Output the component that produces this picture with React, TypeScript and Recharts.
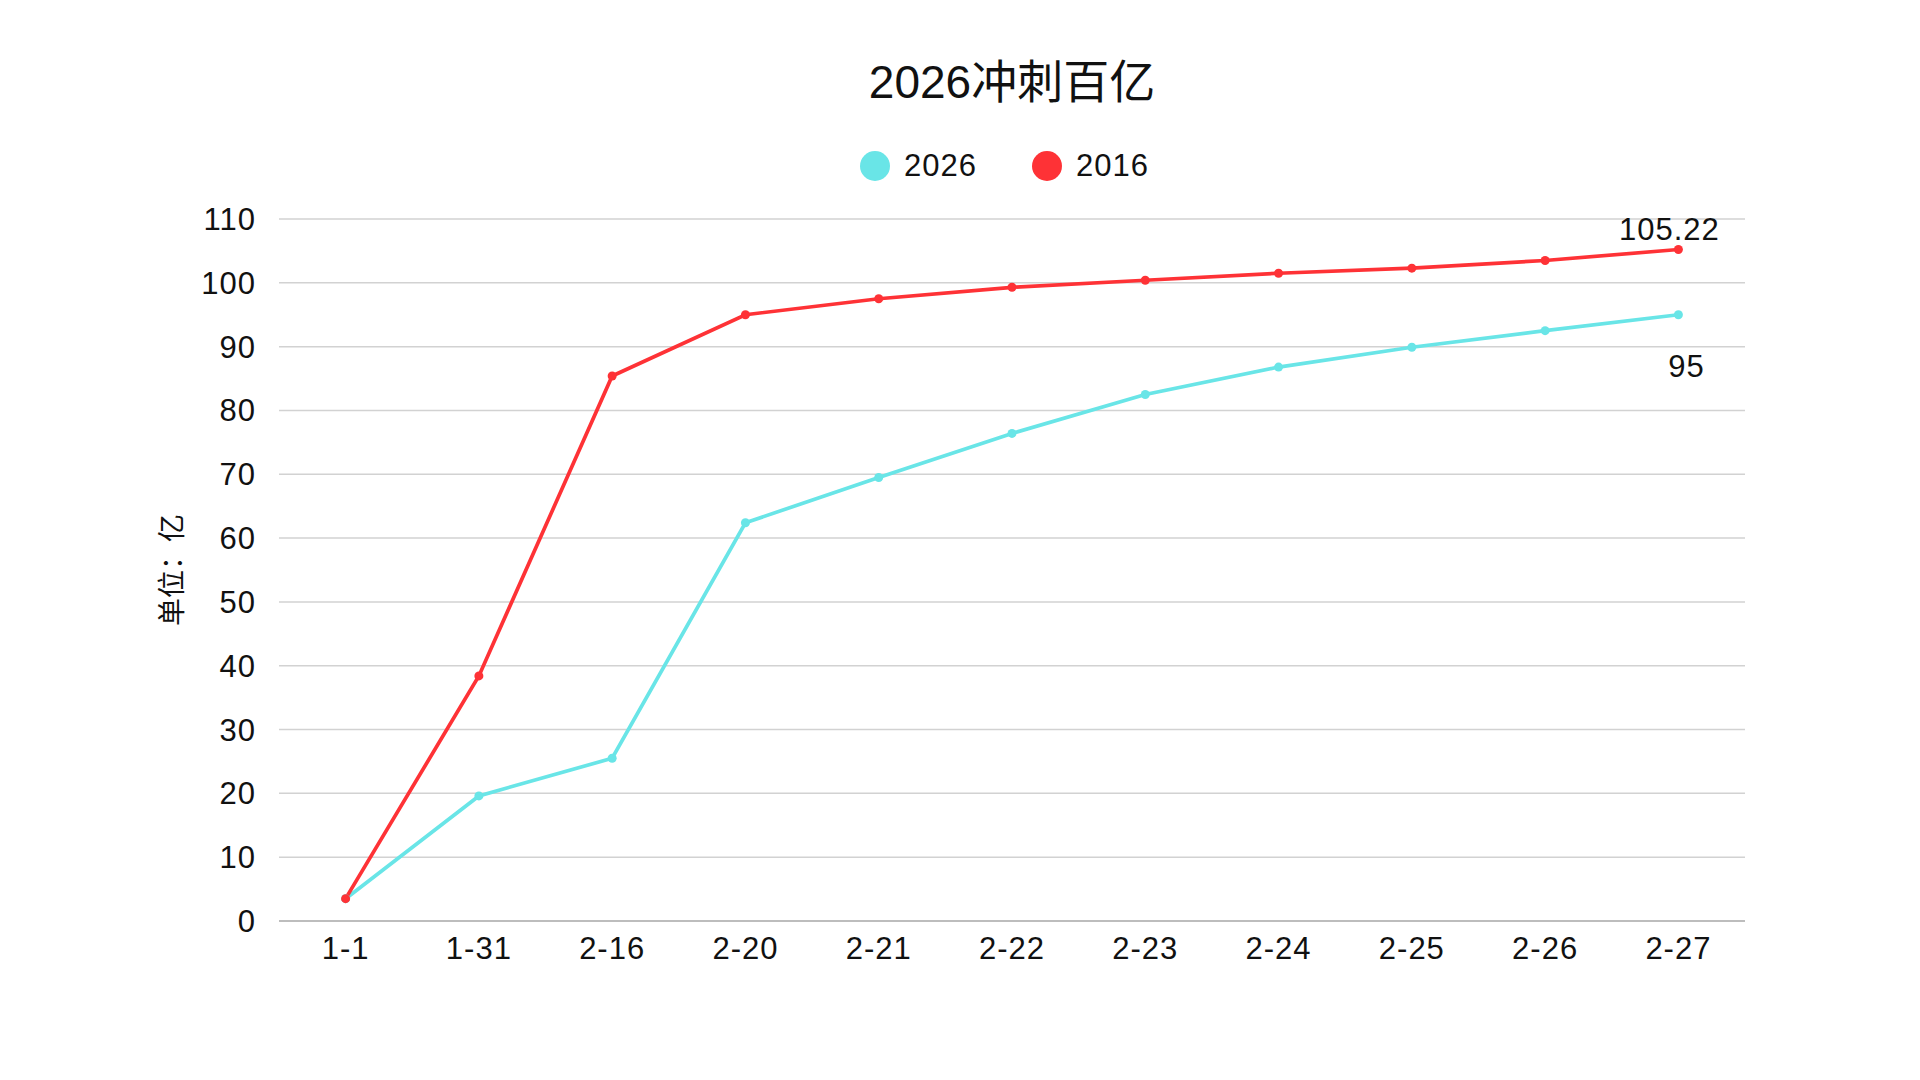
import { LineChart, Line, XAxis, YAxis, CartesianGrid, LabelList } from 'recharts';

const categories = ['1-1', '1-31', '2-16', '2-20', '2-21', '2-22', '2-23', '2-24', '2-25', '2-26', '2-27'];
const series2026 = [3.5, 19.6, 25.5, 62.4, 69.5, 76.4, 82.5, 86.8, 89.9, 92.5, 95];
const series2016 = [3.5, 38.4, 85.4, 95.0, 97.5, 99.3, 100.4, 101.5, 102.3, 103.5, 105.22];
const yTicks = [0, 10, 20, 30, 40, 50, 60, 70, 80, 90, 100, 110];

const CYAN = '#69e5e7';
const RED = '#fe3236';
const FONT = '"Liberation Sans", "Noto Sans CJK SC", sans-serif';

const data = categories.map((name, i) => ({
  name,
  v2026: series2026[i],
  v2016: series2016[i],
}));

const lastIndex = categories.length - 1;

function RedLabel(props: any) {
  const { x, y, index, value } = props;
  if (index !== lastIndex) return null;
  return (
    <text x={x - 9} y={y - 10} textAnchor="middle" fontSize={31} letterSpacing={1} fontFamily={FONT} fill="#111">
      {value}
    </text>
  );
}

function CyanLabel(props: any) {
  const { x, y, index, value } = props;
  if (index !== lastIndex) return null;
  return (
    <text x={x + 8} y={y + 62} textAnchor="middle" fontSize={31} letterSpacing={1} fontFamily={FONT} fill="#111">
      {value}
    </text>
  );
}

function YLabel(props: any) {
  const vb = props.viewBox || {};
  const cx = vb.x - 27;
  const cy = vb.y + vb.height / 2;
  return (
    <text
      x={cx}
      y={cy}
      transform={`rotate(-90 ${cx} ${cy})`}
      textAnchor="middle"
      dominantBaseline="central"
      fontSize={28}
      fontFamily={FONT}
      fill="#111"
    >
      单位：亿
    </text>
  );
}

const legendItems = [
  { label: '2026', color: CYAN },
  { label: '2016', color: RED },
];

export default function App() {
  return (
    <div style={{ position: 'absolute', left: 0, top: 0, width: 1920, height: 1080, background: '#fff', fontFamily: FONT }}>
      {/* Title */}
      <div
        style={{
          position: 'absolute',
          top: 52,
          left: 279,
          width: 1466,
          textAlign: 'center',
          fontSize: 46,
          lineHeight: '60px',
          color: '#111',
        }}
      >
        2026冲刺百亿
      </div>

      {/* Legend */}
      <div
        style={{
          position: 'absolute',
          top: 146,
          left: 860,
          height: 40,
          display: 'flex',
          alignItems: 'center',
          gap: 55,
        }}
      >
        {legendItems.map((it) => (
          <div key={it.label} style={{ display: 'flex', alignItems: 'center', gap: 14 }}>
            <span style={{ width: 30, height: 30, borderRadius: 15, background: it.color, display: 'inline-block' }} />
            <span style={{ fontSize: 31, letterSpacing: 1, color: '#111', lineHeight: '40px' }}>{it.label}</span>
          </div>
        ))}
      </div>

      <LineChart
        width={1920}
        height={1080}
        data={data}
        margin={{ top: 219, right: 175, bottom: 99, left: 199 }}
      >
        <CartesianGrid vertical={false} stroke="#d2d2d2" strokeWidth={1.5} />
        <XAxis
          dataKey="name"
          height={60}
          padding={{ left: 66.6, right: 66.6 }}
          axisLine={{ stroke: '#bdbdbd', strokeWidth: 2 }}
          tickLine={false}
          tickSize={0}
          tickMargin={16}
          tick={{ fontSize: 31, letterSpacing: 1, fill: '#111', fontFamily: FONT }}
          interval={0}
        />
        <YAxis
          width={80}
          domain={[0, 110]}
          ticks={yTicks}
          axisLine={false}
          tickLine={false}
          tickSize={0}
          tickMargin={23}
          tick={{ fontSize: 31, letterSpacing: 1, fill: '#111', fontFamily: FONT }}
          label={{ content: YLabel }}
        />
        <Line
          type="linear"
          dataKey="v2026"
          stroke={CYAN}
          strokeWidth={3.7}
          dot={{ r: 4.5, fill: CYAN, stroke: CYAN, strokeWidth: 0 }}
          activeDot={false}
          isAnimationActive={false}
        >
          <LabelList dataKey="v2026" content={CyanLabel} />
        </Line>
        <Line
          type="linear"
          dataKey="v2016"
          stroke={RED}
          strokeWidth={3.7}
          dot={{ r: 4.5, fill: RED, stroke: RED, strokeWidth: 0 }}
          activeDot={false}
          isAnimationActive={false}
        >
          <LabelList dataKey="v2016" content={RedLabel} />
        </Line>
      </LineChart>
    </div>
  );
}
